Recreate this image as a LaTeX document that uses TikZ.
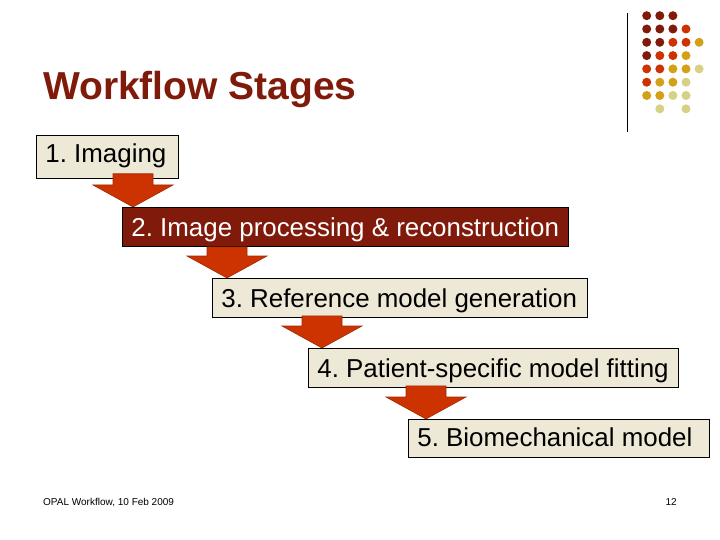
\documentclass[tikz,border=0pt]{standalone}
\usepackage{fontspec}
\setmainfont{Liberation Sans}
\usetikzlibrary{calc}
\frenchspacing
\definecolor{darkrust}{RGB}{128,26,10}
\definecolor{rust}{RGB}{204,51,0}
\definecolor{rustedge}{RGB}{160,40,0}
\definecolor{gold}{RGB}{212,160,23}
\definecolor{khaki}{RGB}{214,209,132}
\definecolor{beige}{RGB}{238,232,214}
\tikzset{
  stagebox/.style={draw=black, line width=0.8pt, fill=beige, anchor=north west,
    inner xsep=9pt, inner ysep=0pt, font=\fontsize{25.9}{28}\selectfont},
  darkbox/.style={stagebox, fill=darkrust, text=white},
  fatarrow/.style={fill=rust, draw=rustedge, line width=0.6pt, line join=miter},
  dot/.style={circle, inner sep=0pt, minimum size=9pt},
}
\newcommand\stagearrow[2]{% #1 shaft-top coordinate, #2 tip coordinate
  \filldraw[fatarrow] ($(#1)+(-20,0)$) -- ($(#1)+(20,0)$) -- ($(#2)+(20,-22)$)
    -- ($(#2)+(40,-22)$) -- (#2) -- ($(#2)+(-40,-22)$) -- ($(#2)+(-20,-22)$) -- cycle;}
\newcommand\boxtext[2]{\makebox[#1][l]{#2}}
\begin{document}
\begin{tikzpicture}[x=1pt,y=-1pt]
\useasboundingbox (0,0) rectangle (720,540);
\fill[white] (0,0) rectangle (720,540);
% decoration
\draw[line width=0.8pt] (627.5,13) -- (627.5,132);
\foreach \c/\r/\col in {1/1/darkrust,2/1/darkrust,3/1/darkrust,
  1/2/darkrust,2/2/darkrust,3/2/darkrust,4/2/rust,
  1/3/darkrust,2/3/darkrust,3/3/rust,4/3/rust,5/3/gold,
  1/4/darkrust,2/4/rust,3/4/rust,4/4/gold,
  1/5/rust,2/5/rust,3/5/gold,4/5/gold,5/5/khaki,
  1/6/rust,2/6/gold,3/6/gold,4/6/khaki,
  1/7/gold,2/7/gold,3/7/khaki,4/7/khaki,
  2/8/khaki,4/8/khaki}
  \node[dot, fill=\col] (d\c\r) at ({646.7+13.1*(\c-1)},{15.7+13.3*(\r-1)}) {};
% title
\node[anchor=base west, inner sep=0pt, text=darkrust, font=\fontsize{39}{42}\selectfont\bfseries] (title) at (43,100) {Workflow Stages};
% stages
\node[stagebox, text height=27pt, text depth=16pt] (b1) at (36,135) {\boxtext{124pt}{1. Imaging}};
\coordinate (s1) at ($(b1.south west)+(97,-5)$);
\coordinate (t1) at (133,207);
\stagearrow{s1}{t1}
\node[darkbox, text height=29pt, text depth=10pt] (b2) at (122,207) {\boxtext{428pt}{2. Image processing \& reconstruction}};
\coordinate (s2) at ($(b2.south west)+(105,0)$);
\coordinate (t2) at (227,278);
\stagearrow{s2}{t2}
\node[stagebox, text height=29pt, text depth=10pt] (b3) at (212,278) {\boxtext{357pt}{3. Reference model generation}};
\coordinate (s3) at ($(b3.south west)+(110,-2)$);
\coordinate (t3) at (322,348);
\stagearrow{s3}{t3}
\node[stagebox, text height=29pt, text depth=10pt] (b4) at (308,348) {\boxtext{352pt}{4. Patient-specific model fitting}};
\coordinate (s4) at ($(b4.south west)+(118,-2)$);
\coordinate (t4) at (426,419);
\stagearrow{s4}{t4}
\node[stagebox, text height=27pt, text depth=11pt] (b5) at (408,419) {\boxtext{283pt}{5. Biomechanical model}};
% footer
\node[anchor=base west, inner sep=0pt, font=\fontsize{10}{12}\selectfont] (foot) at (43,505) {OPAL Workflow, 10 Feb 2009};
\node[anchor=base east, inner sep=0pt, font=\fontsize{10}{12}\selectfont] (page) at (677,505) {12};
\end{tikzpicture}
\end{document}
